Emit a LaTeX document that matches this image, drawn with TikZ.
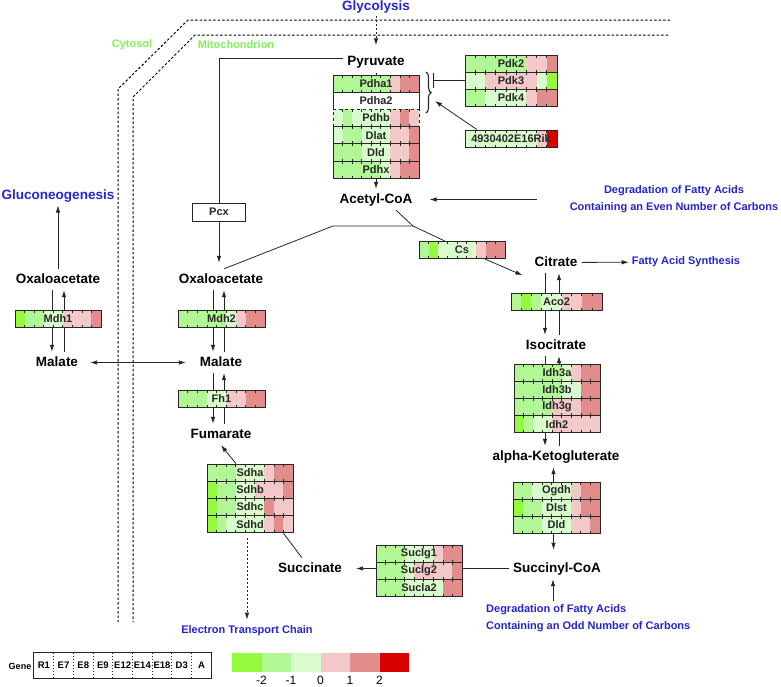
\documentclass[tikz,border=0pt]{standalone}
\usepackage{fontspec}
\setmainfont{Liberation Sans}
\usepackage{tikz}
\usetikzlibrary{arrows,arrows.meta,backgrounds,positioning,decorations.pathreplacing}

\definecolor{lv1}{RGB}{150,250,60}
\definecolor{lv2}{RGB}{178,247,150}
\definecolor{lv3}{RGB}{216,252,204}
\definecolor{lv4}{RGB}{242,200,200}
\definecolor{lv5}{RGB}{226,140,140}
\definecolor{lv6}{RGB}{218,0,0}
\definecolor{pathblue}{RGB}{36,36,210}
\definecolor{compgreen}{RGB}{135,238,85}

% one row of a gene heat box: [style]{name}{left}{top}{width}{label}{levels}
\newcommand{\generow}[7][]{%
  \foreach \lv [count=\i from 0] in {#7}
    \fill[fill=lv\lv] ({#3+\i*#5/9},#4) rectangle ++({#5/9},17.2);
  \foreach \i in {1,...,8} {
    \draw[celltick] ({#3+\i*#5/9},#4) -- ++(0,2.5);
    \draw[celltick] ({#3+\i*#5/9},{#4+17.2}) -- ++(0,-2.5);
  }
  \node[gene,minimum width=#5pt,#1] (#2) at ({#3+#5/2},{#4+8.6}) {#6};
}

\begin{document}
\begin{tikzpicture}[x=1pt,y=-1pt]
  % styles
  \tikzstyle{metabolite}=[font=\fontsize{13.5}{15}\selectfont\bfseries, text height=10pt, text depth=3pt, inner sep=4pt]
  \tikzstyle{pathway}=[text=pathblue, font=\fontsize{11}{17}\selectfont\bfseries, align=center, inner sep=3pt]
  \tikzstyle{bigpathway}=[pathway, font=\fontsize{13.5}{15}\selectfont\bfseries]
  \tikzstyle{compartment}=[text=compgreen, font=\fontsize{11}{13}\selectfont\bfseries]
  \tikzstyle{gene}=[draw=black!85, line width=0.8pt, minimum height=17.2pt, inner sep=0pt, font=\fontsize{11}{12}\selectfont\bfseries, text=black!85]
  \tikzstyle{celltick}=[draw=black!85, line width=0.6pt]
  \tikzstyle{legcell}=[minimum width=19.7pt, minimum height=25pt, inner sep=0pt, font=\fontsize{9.5}{10}\selectfont\bfseries]
  \tikzstyle{plain}=[draw, line width=0.8pt, black!85]
  \tikzstyle{line}=[plain, -{Latex[length=7pt,width=4.5pt]}]
  \tikzstyle{dblline}=[plain, {Latex[length=7pt,width=4.5pt]}-{Latex[length=7pt,width=4.5pt]}]
  \tikzstyle{dline}=[line, dash pattern=on 2pt off 2pt]
  \tikzstyle{inhib}=[plain, -{Bar[width=15pt]}]
  \tikzstyle{membrane}=[draw, line width=1pt, black, dash pattern=on 2.5pt off 2pt]

  \useasboundingbox (0,0) rectangle (781,686);

  % compartments
  \draw[membrane] (670,20) -- (188,20) -- (118,89) -- (118,622);
  \draw[membrane] (668,35) -- (195,35) -- (133,97) -- (133,622);
  \node[compartment] (cytosol) at (132,45) {Cytosol};
  \node[compartment] (mito) at (236,45) {Mitochondrion};

  % metabolites
  \node[metabolite] (pyr) at (376,62) {Pyruvate};
  \node[metabolite] (acoa) at (376,199.5) {Acetyl-CoA};
  \node[metabolite] (oaa1) at (58,279.5) {Oxaloacetate};
  \node[metabolite] (oaa2) at (221,279.5) {Oxaloacetate};
  \node[metabolite] (mal1) at (57,362.5) {Malate};
  \node[metabolite] (mal2) at (221,362.5) {Malate};
  \node[metabolite] (fum) at (221,434.5) {Fumarate};
  \node[metabolite] (succ) at (310,568.5) {Succinate};
  \node[metabolite] (scoa) at (557,568.5) {Succinyl-CoA};
  \node[metabolite] (akg) at (556,456.5) {alpha-Ketogluterate};
  \node[metabolite] (iso) at (556,345.5) {Isocitrate};
  \node[metabolite] (cit) at (556,262.5) {Citrate};

  % pathways
  \node[bigpathway] (glyc) at (376,7) {Glycolysis};
  \node[bigpathway] (glucon) at (58,196) {Gluconeogenesis};
  \node[pathway] (evenfa) at (674,199) {Degradation of Fatty Acids\\Containing an Even Number of Carbons};
  \node[pathway] (fas) at (686,262) {Fatty Acid Synthesis};
  \node[pathway, anchor=west, align=left] (oddfa) at (483,618) {Degradation of Fatty Acids\\Containing an Odd Number of Carbons};
  \node[pathway] (etc) at (247,631) {Electron Transport Chain};

  % genes
  \generow{pdha1}{333}{75}{86}{Pdha1}{2,2,2,2,2,2,4,5,5}
  \node[gene, fill=white, minimum width=86pt] (pdha2) at (376,100.8) {Pdha2};
  \generow[dashed]{pdhb}{333}{109.4}{86}{Pdhb}{3,2,3,3,3,3,4,5,4}
  \generow{dlat}{333}{126.6}{86}{Dlat}{3,2,2,3,3,3,4,4,5}
  \generow{dld}{333}{143.8}{86}{Dld}{2,2,2,3,3,3,4,4,5}
  \generow{pdhx}{333}{161}{86}{Pdhx}{2,2,2,2,2,3,4,5,5}

  \generow{pdk2}{465}{55}{92}{Pdk2}{2,2,2,2,2,2,4,4,5}
  \generow{pdk3}{465}{72.2}{92}{Pdk3}{3,3,4,4,4,4,4,3,1}
  \generow{pdk4}{465}{89.4}{92}{Pdk4}{2,2,3,3,3,3,4,5,5}
  \generow{rik}{465}{130}{92}{4930402E16Rik}{3,3,3,3,3,3,3,4,6}

  \node[gene, fill=white, minimum width=53pt, minimum height=18pt] (pcx) at (219,212) {Pcx};

  \generow{cs}{419}{241.5}{86}{Cs}{2,1,3,3,3,3,4,5,5}
  \generow{aco2}{511}{293}{91}{Aco2}{2,1,2,3,3,4,4,5,5}

  \generow{idh3a}{514}{364}{86}{Idh3a}{2,2,2,2,2,3,4,5,5}
  \generow{idh3b}{514}{381.2}{86}{Idh3b}{2,2,2,2,2,3,3,5,5}
  \generow{idh3g}{514}{398.4}{86}{Idh3g}{2,2,2,2,4,4,4,5,5}
  \generow{idh2}{514}{415.6}{86}{Idh2}{1,2,3,3,4,4,4,4,4}

  \generow{ogdh}{513}{482}{87}{Ogdh}{2,2,3,3,3,3,4,5,5}
  \generow{dlst}{513}{499.2}{87}{Dlst}{1,2,2,3,3,3,4,5,5}
  \generow{dldb}{513}{516.4}{87}{Dld}{2,2,2,3,3,3,4,4,5}

  \generow{suclg1}{376}{545}{86}{Suclg1}{2,2,2,3,3,3,4,5,5}
  \generow{suclg2}{376}{562.2}{86}{Suclg2}{2,2,2,3,4,4,4,4,5}
  \generow{sucla2}{376}{579.4}{86}{Sucla2}{2,2,2,3,3,3,3,5,5}

  \generow{sdha}{207}{464}{86}{Sdha}{2,2,2,3,3,3,4,5,5}
  \generow{sdhb}{207}{481.2}{86}{Sdhb}{1,2,2,3,3,4,4,4,5}
  \generow{sdhc}{207}{498.4}{86}{Sdhc}{1,2,2,3,3,3,5,4,4}
  \generow{sdhd}{207}{515.6}{86}{Sdhd}{1,2,3,3,3,3,4,5,4}

  \generow{mdh1}{15}{310}{86}{Mdh1}{1,2,2,3,3,4,4,4,5}
  \generow{mdh2}{178}{310}{87}{Mdh2}{2,2,2,2,2,3,4,5,5}
  \generow{fh1}{178}{390}{87}{Fh1}{2,2,2,3,3,4,4,5,5}

  % pyruvate dehydrogenase complex
  \coordinate (brk) at (433,81);
  \coordinate (brkin) at (435,101);
  \draw[black!85, line width=1.1pt, decorate, decoration={brace, amplitude=5pt}] (426,72) -- (426,113);
  \draw[inhib] (pdk3.west) -- (pdk3.west -| brk);
  \draw[line] ([xshift=-34pt]rik.north) -- (brkin);

  % connectors
  \draw[dline, shorten >=6pt] (glyc) -- (pyr);
  \draw[plain] (pyr) -- (pdha1);
  \draw[line] (pdhx) -- (acoa);
  \draw[plain] ([yshift=4pt]pyr.west) -| (pcx);
  \draw[line, shorten >=6pt] (pcx) -- (pcx |- oaa2.north);
  \draw[line, shorten <=30pt, shorten >=13pt] (evenfa.west |- acoa.east) -- (acoa.east);

  \coordinate (oaabend) at (333,226);
  \coordinate (csjoin) at (413,226);
  \draw[plain] ([xshift=3pt]oaa2.north) -- (oaabend) -- (csjoin);
  \draw[plain] ([xshift=20pt]acoa.south) -- (csjoin) -- ([xshift=-17pt]cs.north);
  \draw[line] ([xshift=23pt]cs.south) -- ([xshift=-8pt,yshift=-2pt]cit.south west);
  \draw[line] (cit) -- (fas);

  \draw[line] ([xshift=-3pt]ogdh.north) -- ([xshift=-3pt]ogdh.north |- akg.south);
  \draw[line, shorten >=8pt] ([xshift=-3pt]dldb.south) -- ([xshift=-3pt]dldb.south |- scoa.north);
  \draw[line] ([xshift=-4pt]scoa.south |- oddfa.north) -- ([xshift=-4pt]scoa.south);
  \draw[plain] (scoa.west) -- (scoa.west -| suclg2.east);
  \draw[line, shorten >=10pt] (suclg2.west |- succ.east) -- (succ.east);
  \draw[plain] ([xshift=-8pt]succ.north) -- ([xshift=-10pt]sdhd.south east);
  \draw[line] ([xshift=-14pt]sdha.north) -- (fum.south);
  \draw[dline, shorten <=5pt, shorten >=3pt] ([xshift=-3pt]sdhd.south) -- ([xshift=-3pt]sdhd.south |- etc.north);

  \draw[line] (oaa1) -- (glucon);
  \draw[dblline, shorten <=8pt, shorten >=10pt] (mal1) -- (mal2);

  \begin{pgfonlayer}{background}
    \draw[line] ([xshift=-6pt]oaa1.south) -- ([xshift=-6pt]oaa1.south |- mal1.north);
    \draw[line] ([xshift=6pt]oaa1.south |- mal1.north) -- ([xshift=6pt]oaa1.south);
    \draw[line] ([xshift=-8pt]oaa2.south) -- ([xshift=-8pt]mal2.north);
    \draw[line] ([xshift=3pt]mal2.north) -- ([xshift=3pt]oaa2.south);
    \draw[line] ([xshift=-8pt]mal2.south) -- ([xshift=-8pt]fum.north);
    \draw[line] ([xshift=3pt]fum.north) -- ([xshift=3pt]mal2.south);
    \draw[line] ([xshift=-11pt]cit.south) -- ([xshift=-11pt]iso.north);
    \draw[line] ([xshift=3pt]iso.north) -- ([xshift=3pt]cit.south);
    \draw[line] ([xshift=-11pt]iso.south) -- ([xshift=-11pt]akg.north);
    \draw[line] ([xshift=3pt]akg.north) -- ([xshift=3pt]iso.south);
  \end{pgfonlayer}

  % legend
  \node[font=\fontsize{9}{10}\selectfont\bfseries] (genelab) at (20,666) {Gene};
  \foreach \lab [count=\i from 0] in {R1,E7,E8,E9,E12,E14,E18,D3,A}
    \node[legcell] (leg\i) at ({43.85+\i*19.7},665.5) {\lab};
  \draw[plain] (leg0.north west) rectangle (leg8.south east);
  \foreach \i in {1,...,8}
    \draw[black!85, line width=0.6pt, dash pattern=on 1.5pt off 1.5pt] (leg\i.north west) -- (leg\i.south west);

  \foreach \c [count=\i from 0] in {1,...,6}
    \fill[fill=lv\c] ({232+\i*29.5},653) rectangle ++(29.5,19);
  \foreach \v [count=\i from 1] in {-2,-1,0,1,2}
    \node[font=\fontsize{12}{12}\selectfont, inner sep=1pt] (scale\i) at ({232+\i*29.5},680) {\v};
\end{tikzpicture}
\end{document}
